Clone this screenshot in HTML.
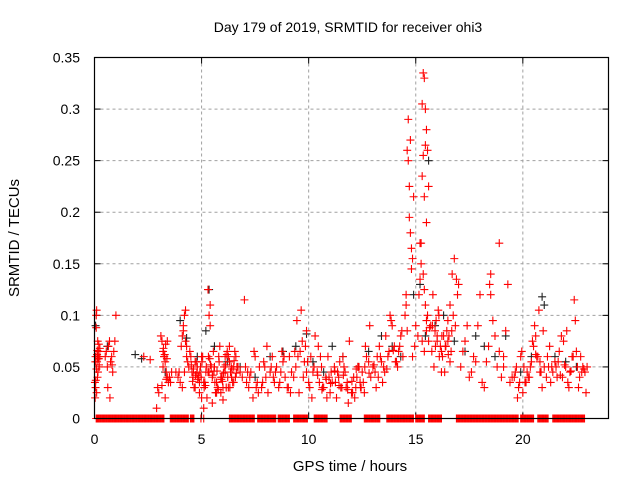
<!DOCTYPE html>
<html><head><meta charset="utf-8">
<style>
html,body{margin:0;padding:0;background:#fff;}
svg{display:block;font-family:"Liberation Sans",sans-serif;}
</style></head>
<body>
<svg id="chart" width="640" height="480" viewBox="0 0 640 480">
<rect x="0" y="0" width="640" height="480" fill="#fff"/>
<g id="grid"></g>
<g id="ticks"></g>
<g id="blackSeries"></g>
<g id="redSeries"></g>
<rect x="94.5" y="57.5" width="514" height="361" fill="none" stroke="#000" stroke-width="1.2"/>
<text x="348" y="32" font-size="14" text-anchor="middle">Day 179 of 2019, SRMTID for receiver ohi3</text>
<text transform="translate(19,238) rotate(-90)" font-size="15" text-anchor="middle">SRMTID / TECUs</text>
<text x="350" y="471" font-size="15" text-anchor="middle">GPS time / hours</text>
</svg>
<script>
const xTicks=[0,5,10,15,20];
const yTicks=[0,0.05,0.1,0.15,0.2,0.25,0.3,0.35];
const yTickLabels=["0","0.05","0.1","0.15","0.2","0.25","0.3","0.35"];
const zeroStarts=[0.08,3.54,4.48,4.97,5.1,6.3,7.62,8.58,9.3,10.26,11.47,12.6,13.65,15.0,15.6,16.9,19.9,20.7,21.4];
const zeroEnds=[3.26,4.38,4.66,4.97,5.1,7.46,8.47,9.1,9.95,10.88,12.0,13.34,14.9,15.4,16.2,19.8,20.5,21.2,22.9];
const redT=[0.02,0.05,0.08,0.1,0.12,0.15,0.18,0.2,0.22,0.25,0.05,0.1,0.14,0.2,0.08,0.12,0.16,0.03,0.06,0.25,
0.5,0.55,0.6,0.65,0.7,0.75,0.8,0.85,0.9,0.95,1.0,0.62,0.72,0.82,
2.3,2.6,2.9,2.95,3.0,
3.1,3.15,3.2,3.25,3.3,3.35,3.4,3.45,3.5,3.55,3.6,3.2,3.3,3.4,3.25,3.35,3.5,3.15,
3.8,3.9,4.0,4.05,4.1,4.15,4.2,4.25,4.3,4.35,4.4,4.1,4.2,4.3,3.95,4.15,4.25,4.45,
4.5,4.6,4.7,4.8,4.9,5.0,5.1,5.2,5.3,5.4,5.5,5.6,5.7,5.8,5.9,6.0,6.1,6.2,6.3,6.4,6.5,6.6,6.7,6.8,
4.55,4.65,4.75,4.85,4.95,5.05,5.15,5.25,5.35,5.45,5.55,5.65,5.75,5.85,5.95,6.05,6.15,6.25,6.35,6.45,6.55,6.65,
4.7,4.9,5.1,5.3,5.5,5.7,5.9,6.1,6.3,6.5,5.35,5.4,5.0,6.0,6.25,
6.9,7.0,7.1,7.2,7.3,7.4,7.5,7.6,7.7,7.8,7.9,8.0,8.1,8.2,8.3,8.4,8.5,8.6,8.7,8.8,8.9,9.0,9.1,9.2,
7.05,7.25,7.45,7.65,7.85,8.05,8.25,8.45,8.65,8.85,9.05,7.15,7.55,7.95,8.35,8.75,9.15,
9.3,9.4,9.5,9.6,9.7,9.8,9.9,10.0,10.1,10.2,10.3,9.45,9.65,9.85,10.05,10.25,9.55,9.75,9.95,10.15,9.35,9.9,
10.4,10.5,10.6,10.7,10.8,10.9,11.0,11.1,11.2,11.3,11.4,11.5,11.6,11.7,11.8,11.9,12.0,12.1,12.2,12.3,12.4,12.5,12.6,12.7,12.8,12.9,
10.45,10.65,10.85,11.05,11.25,11.45,11.65,11.85,12.05,12.25,12.45,12.65,12.85,10.55,10.95,11.35,11.75,12.15,12.55,11.55,12.35,
13.0,13.1,13.2,13.3,13.4,13.5,13.6,13.7,13.8,13.9,14.0,14.1,14.2,14.3,14.4,13.25,13.55,13.85,14.15,14.35,13.45,13.75,14.05,13.15,
14.5,14.55,14.6,14.65,14.7,14.75,14.8,14.85,14.9,14.6,14.7,14.8,14.55,14.65,14.75,14.85,14.95,15.0,
15.1,15.15,15.2,15.25,15.3,15.35,15.4,15.45,15.5,15.55,15.6,15.3,15.35,15.4,15.45,15.5,15.2,15.25,15.35,15.4,15.45,15.5,15.55,15.3,15.4,15.5,15.6,
15.7,15.8,15.9,16.0,16.1,16.2,16.3,16.4,16.5,16.6,16.7,16.8,16.9,17.0,15.75,15.85,15.95,16.05,16.15,16.25,16.35,16.45,16.55,16.65,16.75,16.85,16.95,16.4,16.5,16.6,16.2,16.0,
17.1,17.3,17.5,17.7,17.9,18.1,18.3,18.5,18.7,18.9,19.1,19.3,19.5,17.2,17.4,17.6,17.8,18.0,18.2,18.4,18.6,18.8,19.0,19.2,19.4,18.45,18.5,18.9,19.1,
19.6,19.7,19.8,19.9,20.0,20.1,20.2,20.3,20.4,20.5,20.6,20.7,20.8,20.9,21.0,19.75,19.95,20.15,20.35,20.55,20.75,20.95,20.45,20.65,20.85,
21.1,21.2,21.3,21.4,21.5,21.6,21.7,21.8,21.9,22.0,22.1,22.2,22.3,22.4,22.5,22.6,22.7,22.8,22.9,23.0,21.25,21.55,21.85,22.15,22.45,22.75,22.95,21.65,22.35,22.05,
4.52,4.62,4.72,4.82,4.92,5.02,5.12,5.22,5.32,5.42,5.52,5.62,5.72,5.82,5.92,6.02,6.12,6.22,6.32,6.42,6.52,6.62,
4.58,4.78,4.98,5.18,5.38,5.58,5.78,5.98,6.18,6.38,6.58,
10.42,10.62,10.82,11.02,11.22,11.42,11.62,11.82,12.02,12.22,12.42,12.62,12.82,
0.04,0.09,0.13,0.17,0.21,3.22,3.28,3.32,3.38,
13.05,13.35,13.65,13.95,14.25,15.65,15.78,15.92,16.08,16.22,16.38,16.52,16.68,
21.15,21.35,21.75,21.95,22.25,22.55,22.65,22.85,19.65,19.85,20.05,20.25,20.6,20.8];
const redV=[0.035,0.06,0.1,0.105,0.055,0.075,0.065,0.058,0.05,0.06,0.03,0.025,0.04,0.072,0.088,0.062,0.045,0.02,0.037,0.068,
0.06,0.065,0.05,0.07,0.075,0.055,0.06,0.045,0.065,0.075,0.1,0.03,0.02,0.052,
0.06,0.057,0.01,0.03,0.025,
0.08,0.075,0.065,0.06,0.055,0.045,0.04,0.035,0.04,0.035,0.045,0.05,0.02,0.075,0.06,0.038,0.04,0.032,
0.045,0.04,0.035,0.07,0.08,0.09,0.1,0.105,0.07,0.055,0.05,0.03,0.045,0.06,0.045,0.085,0.075,0.065,
0.06,0.04,0.03,0.05,0.035,0.02,0.01,0.045,0.125,0.11,0.04,0.05,0.035,0.06,0.025,0.03,0.045,0.065,0.055,0.04,0.035,0.06,0.05,0.045,
0.045,0.03,0.055,0.04,0.05,0.06,0.035,0.02,0.045,0.05,0.065,0.025,0.03,0.07,0.04,0.05,0.03,0.06,0.045,0.035,0.065,0.05,
0.055,0.025,0.035,0.045,0.015,0.025,0.04,0.06,0.07,0.05,0.1,0.09,0.06,0.018,0.03,
0.04,0.115,0.035,0.03,0.045,0.02,0.06,0.035,0.05,0.03,0.055,0.04,0.025,0.045,0.06,0.035,0.05,0.03,0.045,0.055,0.04,0.03,0.06,0.045,
0.05,0.04,0.065,0.025,0.035,0.07,0.05,0.045,0.035,0.06,0.03,0.045,0.03,0.05,0.04,0.065,0.025,
0.04,0.05,0.06,0.065,0.075,0.055,0.045,0.035,0.06,0.045,0.08,0.095,0.105,0.07,0.03,0.05,0.025,0.04,0.055,0.02,0.065,0.085,
0.045,0.035,0.05,0.03,0.04,0.06,0.025,0.035,0.05,0.02,0.04,0.03,0.06,0.045,0.035,0.075,0.025,0.04,0.03,0.05,0.035,0.045,0.025,0.06,0.055,0.04,
0.07,0.03,0.02,0.045,0.035,0.055,0.05,0.015,0.025,0.04,0.03,0.07,0.09,0.06,0.04,0.045,0.03,0.02,0.035,0.03,0.05,
0.05,0.045,0.06,0.07,0.055,0.05,0.08,0.06,0.1,0.09,0.07,0.055,0.065,0.08,0.06,0.04,0.045,0.095,0.05,0.085,0.035,0.065,0.055,0.03,
0.1,0.12,0.26,0.29,0.195,0.18,0.165,0.155,0.215,0.085,0.225,0.145,0.11,0.25,0.27,0.06,0.07,0.09,
0.08,0.12,0.135,0.17,0.305,0.335,0.33,0.3,0.28,0.26,0.225,0.235,0.255,0.215,0.265,0.19,0.17,0.15,0.14,0.125,0.11,0.095,0.1,0.075,0.065,0.085,0.075,
0.09,0.12,0.085,0.075,0.06,0.065,0.08,0.07,0.095,0.11,0.14,0.155,0.135,0.13,0.065,0.05,0.095,0.105,0.07,0.06,0.045,0.085,0.08,0.065,0.1,0.09,0.12,0.07,0.075,0.055,0.045,0.08,
0.05,0.075,0.04,0.06,0.09,0.035,0.055,0.14,0.08,0.065,0.06,0.13,0.04,0.065,0.09,0.045,0.055,0.12,0.03,0.07,0.095,0.05,0.04,0.085,0.035,0.13,0.12,0.17,0.05,
0.04,0.05,0.03,0.06,0.025,0.035,0.045,0.04,0.055,0.07,0.08,0.06,0.045,0.03,0.05,0.02,0.065,0.035,0.05,0.09,0.105,0.085,0.075,0.06,0.045,
0.04,0.05,0.035,0.045,0.055,0.04,0.065,0.08,0.075,0.05,0.035,0.045,0.06,0.115,0.065,0.03,0.06,0.05,0.045,0.05,0.07,0.05,0.04,0.03,0.095,0.045,0.025,0.055,0.06,0.085,
0.052,0.048,0.042,0.038,0.045,0.055,0.03,0.05,0.06,0.052,0.042,0.035,0.046,0.055,0.038,0.044,0.052,0.04,0.03,0.048,0.056,0.044,
0.036,0.044,0.04,0.032,0.058,0.046,0.028,0.036,0.062,0.05,0.04,
0.042,0.028,0.038,0.034,0.046,0.032,0.042,0.028,0.036,0.048,0.03,0.05,0.044,
0.055,0.048,0.066,0.058,0.052,0.068,0.062,0.072,0.058,
0.052,0.06,0.048,0.066,0.07,0.088,0.09,0.07,0.1,0.08,0.07,0.062,0.085,
0.06,0.05,0.042,0.052,0.046,0.05,0.04,0.048,0.045,0.035,0.05,0.04,0.062,0.055];
const blackT=[0.05,0.15,0.6,1.9,2.2,3.3,4.0,4.3,4.8,5.2,5.35,5.6,6.2,6.8,7.5,8.2,8.8,9.4,9.9,10.2,10.7,11.1,11.6,12.3,12.8,13.4,13.9,14.3,14.9,15.2,15.45,15.6,15.9,16.3,16.8,17.3,17.8,18.2,18.7,19.2,19.9,20.4,20.9,21.0,21.5,22.0,22.5];
const blackV=[0.09,0.06,0.07,0.062,0.058,0.045,0.095,0.078,0.06,0.085,0.125,0.07,0.055,0.05,0.04,0.06,0.065,0.07,0.082,0.055,0.045,0.07,0.06,0.05,0.065,0.08,0.07,0.06,0.12,0.13,0.08,0.25,0.09,0.1,0.075,0.065,0.08,0.07,0.06,0.08,0.045,0.06,0.118,0.11,0.06,0.055,0.05];
const X0=94.5,X1=608.5,Y0=418.5,Y1=57.5,XMAX=24,YMAX=0.35;
const sx=t=>X0+(X1-X0)*t/XMAX;
const sy=v=>Y0-(Y0-Y1)*v/YMAX;
const NS="http://www.w3.org/2000/svg";
function mk(tag,attrs,parent){const e=document.createElementNS(NS,tag);for(const k in attrs)e.setAttribute(k,attrs[k]);parent.appendChild(e);return e;}
const grid=document.getElementById('grid'),ticks=document.getElementById('ticks');
xTicks.forEach((t,i)=>{
  const x=sx(t);
  if(t>0){const l=mk('line',{x1:x,x2:x,y1:Y1,y2:Y0,stroke:'#a0a0a0','stroke-dasharray':'3,3','stroke-width':1},grid);
  
  }
  mk('line',{x1:x,x2:x,y1:Y0,y2:Y0-6,stroke:'#000'},ticks);
  mk('line',{x1:x,x2:x,y1:Y1,y2:Y1+6,stroke:'#000'},ticks);
  const tx=mk('text',{x:x,y:444,'font-size':14,'text-anchor':'middle'},ticks);
  tx.textContent=String(t);
  
  
});
yTicks.forEach((v,i)=>{
  const y=sy(v);
  if(v>0&&v<YMAX){const l=mk('line',{x1:X0,x2:X1,y1:y,y2:y,stroke:'#a0a0a0','stroke-dasharray':'3,3','stroke-width':1},grid);
  
  }
  mk('line',{x1:X0,x2:X0+6,y1:y,y2:y,stroke:'#000'},ticks);
  mk('line',{x1:X1,x2:X1-6,y1:y,y2:y,stroke:'#000'},ticks);
  const tx=mk('text',{x:80,y:y+5,'font-size':14,'text-anchor':'end'},ticks);
  tx.textContent=yTickLabels[i];
  
  
});
function plus(g,t,v,color,name){
  const x=sx(t),y=sy(v);
  const p=mk('path',{d:`M${x-4},${y}H${x+4}M${x},${y-4}V${y+4}`,stroke:color,'stroke-width':1.1,fill:'none'},g);
  
  
}
const bg=document.getElementById('blackSeries'),rg=document.getElementById('redSeries');
blackT.forEach((t,i)=>plus(bg,t,blackV[i],'#222','black-point'));
redT.forEach((t,i)=>plus(rg,t,redV[i],'#f00','red-point'));
zeroStarts.forEach((s,i)=>{
  const e=zeroEnds[i];
  for(let t=s;t<=e+1e-9;t+=0.04){plus(rg,t,0,'#f00','zero-point');}
});
</script>
</body></html>
